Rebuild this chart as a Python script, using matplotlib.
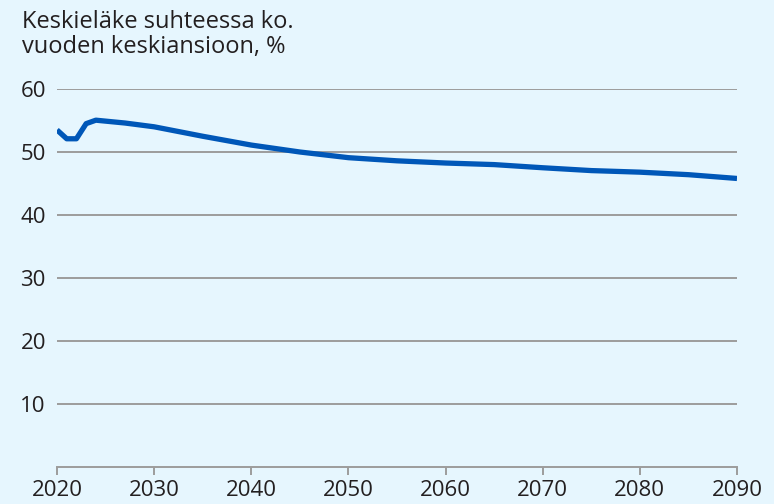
import matplotlib.pyplot as plt

# data
years = [2020, 2021, 2022, 2023, 2024, 2025, 2027, 2030, 2035, 2040,
         2045, 2050, 2055, 2060, 2065, 2070, 2075, 2080, 2085, 2090]
values = [53.5, 52.1, 52.1, 54.5, 55.05, 54.9, 54.6, 54.0, 52.5, 51.1,
          50.0, 49.1, 48.6, 48.25, 48.0, 47.5, 47.05, 46.8, 46.4, 45.8]

x_ticks = [2020, 2030, 2040, 2050, 2060, 2070, 2080, 2090]
y_ticks = [10, 20, 30, 40, 50, 60]
title = "Keskieläke suhteessa ko.\nvuoden keskiansioon, %"

BG = "#E6F6FE"
LINE = "#0057B8"
GRID = "#9C9C9C"
TXT = "#231F20"

plt.rcParams["font.family"] = ["Open Sans", "DejaVu Sans"]

fig = plt.figure(figsize=(7.74, 5.04), dpi=100, facecolor=BG)
ax = fig.add_axes([57 / 774, 1 - 467 / 504, 680 / 774, 378 / 504])
ax.set_facecolor(BG)

for y in y_ticks:
    ax.axhline(y, color=GRID, lw=1.4, zorder=1)

ax.plot(years, values, color=LINE, lw=3.8, solid_capstyle="butt",
        solid_joinstyle="round", zorder=3)

ax.set_xlim(2020, 2090)
ax.set_ylim(0, 60)
ax.set_xticks(x_ticks)
ax.set_yticks(y_ticks)

for side in ["top", "right", "left"]:
    ax.spines[side].set_visible(False)
ax.spines["bottom"].set_color(GRID)
ax.spines["bottom"].set_linewidth(1.4)

ax.tick_params(axis="x", colors=GRID, length=6, width=1.4, pad=3,
               labelcolor=TXT, labelsize=16)
ax.tick_params(axis="y", length=0, pad=8, labelcolor=TXT, labelsize=16)

fig.text(22 / 774, 1 - 10 / 504, title, ha="left", va="top", fontsize=17,
         color=TXT, linespacing=1.07)

fig.savefig("out.png", dpi=100, facecolor=BG)
